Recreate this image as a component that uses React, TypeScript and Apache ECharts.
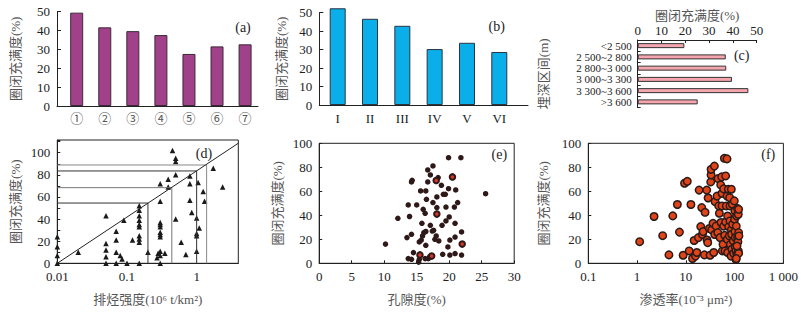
import React, { useEffect, useRef } from 'react';
import * as echarts from 'echarts';

// (a)
const catsA = ['①', '②', '③', '④', '⑤', '⑥', '⑦'];
const valsA = [49.5, 41.7, 39.7, 37.6, 27.6, 31.6, 32.7];
// (b)
const catsB = ['I', 'II', 'III', 'IV', 'V', 'VI'];
const valsB = [52.4, 46.7, 42.9, 30.3, 33.7, 28.7];
// (c)
const catsC = ['<2 500', '2 500~2 800', '2 800~3 000', '3 000~3 300', '3 300~3 600', '>3 600'];
const valsC = [19.6, 37.0, 37.2, 39.6, 46.5, 25.2];
// (d) hydrocarbon expulsion intensity vs filling degree
const ptsD = [
  [0.01, 24], [0.01, 15], [0.01, 7], [0.01, 0],
  [0.02, 10],
  [0.05, 43], [0.05, 18], [0.05, 12], [0.05, 6], [0.05, 0],
  [0.07, 29], [0.07, 21], [0.07, 10], [0.07, 0],
  [0.08, 7], [0.085, 4], [0.09, 39], [0.1, 0], [0.12, 21],
  [0.15, 52], [0.15, 48], [0.15, 43], [0.15, 39], [0.15, 35], [0.15, 33], [0.15, 25], [0.15, 22], [0.15, 19], [0.15, 0],
  [0.2, 10],
  [0.27, 5], [0.28, 9], [0.3, 72], [0.3, 56], [0.3, 37], [0.3, 35], [0.3, 33], [0.3, 28], [0.3, 26], [0.3, 24], [0.3, 11], [0.3, 7], [0.3, 0],
  [0.35, 9], [0.39, 76], [0.39, 69], [0.45, 102],
  [0.5, 95], [0.5, 92], [0.5, 80], [0.5, 40],
  [0.6, 19], [0.7, 8],
  [0.8, 79], [0.8, 72], [0.8, 57], [0.85, 46],
  [1.0, 41], [1.0, 27], [1.0, 25], [1.0, 11], [1.05, 73], [1.09, 32],
  [1.24, 65], [1.3, 56], [1.73, 86], [2.36, 69],
];
const diagD = [[0.01, 0], [3.96, 108.6]];
const stepsD = [
  { x: 0.2, y: 54.5, c: '#333' },
  { x: 0.44, y: 68.4, c: '#777' },
  { x: 1.0, y: 83.5, c: '#333' },
  { x: 1.39, y: 88.9, c: '#888' },
];
// (e) porosity
const ptsE = [
  [19.9, 88], [21.8, 88], [25.6, 58], [10.2, 16], [12.1, 37.5], [13.9, 39], [13.7, 48.6], [15.0, 48.6],
  [14.2, 67.8], [14.3, 69.2], [13.5, 21.4], [14.2, 24.2], [13.7, 3.9], [14.2, 3.3], [14.5, 8.9], [15.3, 1],
  [15.4, 3.3], [15.4, 17.8], [15.7, 19.4], [15.9, 22.8], [16.1, 25.6], [16.4, 26.5], [15.8, 33.3], [16.0, 45],
  [16.3, 41.7], [15.6, 60.3], [16.4, 60.3], [16.7, 77.8], [17.1, 73.6], [16.7, 67.8], [17.5, 81.1], [16.4, 15],
  [16.3, 3.9], [16.8, 3.9], [17.0, 5.6], [16.5, 53.3], [17.1, 31.7], [17.4, 26.9], [17.6, 27.5], [17.5, 50.6],
  [17.8, 20], [18.0, 22.8], [18.1, 55.3], [18.1, 46.4], [18.3, 71.4], [18.8, 65], [18.4, 18.6], [18.9, 31.7],
  [19.1, 57.5], [19.4, 57.5], [19.5, 35.3], [19.5, 46.9], [19.9, 62.2], [20.0, 38.6], [19.8, 13.6], [20.1, 19.4],
  [19.0, 7.5], [20.1, 6.9], [20.8, 46.9], [20.9, 21.9], [20.9, 33.3], [21.0, 61.1], [20.9, 8.1], [21.3, 50.6],
  [21.9, 26.1], [21.9, 6.9],
];
const ptsERed = [[18.0, 69], [18.1, 41], [20.5, 72], [22.0, 16], [15.5, 7], [17.3, 6]];
// (f) permeability
const ptsF = [
  [1.13, 18], [2.23, 39], [3.35, 23], [4.5, 7], [5.4, 39.5], [6.7, 49], [7.4, 26], [8.8, 6.7], [9.4, 66.7], [10.7, 68.3],
  [11.7, 10.3], [12.7, 49], [13.7, 4], [14.8, 19], [15.8, 6], [16.8, 9], [18.1, 21.4], [18.7, 61], [20.2, 30.6], [21.2, 46.4],
  [21.9, 24], [22.6, 26.4], [24, 7], [24.8, 42.5], [26.8, 61], [27.2, 19.4], [28.1, 17.2], [28.6, 54.4], [30.4, 29], [31.4, 6.7],
  [32.4, 67.8], [32.9, 73.6], [32.9, 78.3], [33.9, 27.8], [36.1, 33.3], [37.3, 9], [38.5, 81], [39.1, 24], [39.7, 51.4], [41.6, 31],
  [43.6, 56], [45.1, 25.6], [45.7, 70.6], [47.2, 47.8], [48.7, 41.7], [50.2, 21.4], [51.9, 65.3], [52.6, 34], [54.3, 72], [55.2, 58.3],
  [55.2, 47.8], [56, 10.3], [57.8, 15.8], [59.6, 31], [59.6, 62], [61.6, 87.5], [62.5, 23.3], [63.5, 10.3], [65.5, 72.8], [65.5, 34.4],
  [67.6, 47.8], [69.8, 87], [69.8, 56], [70.8, 20], [71.9, 39.4], [71.9, 9], [74.3, 61.7], [75.5, 30.6], [77.9, 22.8], [79.1, 54.7],
  [80.4, 47.8], [80.4, 35.3], [81.7, 15.8], [84.3, 6], [85.6, 61.7], [85.6, 27.8], [86.9, 24.2], [88.3, 11.7], [89.7, 49.2], [91.1, 32.5],
  [94, 18.6], [95.5, 8.3], [98.5, 52], [100, 36.7], [101.6, 43.6], [101.6, 26.4], [103.3, 21.4], [103.3, 13.6], [106.5, 10.3], [106.5, 3.3],
  [108.2, 31], [110, 39.4], [111.7, 7.5], [115.2, 45.6], [115.2, 21.4], [117, 17.8], [118.9, 40.8], [118.9, 10.3], [120.8, 45], [120.8, 8.3],
  [120.8, 25.6], [122.6, 22.8], [111.7, 14.4], [108.2, 3.9],
];
const logLabelsD: Record<string, string> = { '-2': '0.01', '-1': '0.1', '0': '1' };
const logLabelsF: Record<string, string> = { '-1': '0.1', '0': '1', '1': '10', '2': '100', '3': '1 000' };

const SERIF = "'Liberation Serif', 'Noto Sans CJK SC', serif";
const tick = { fontFamily: SERIF, fontSize: 13, color: '#222' };
const nameStyle = { fontFamily: SERIF, fontSize: 13, color: '#555' };
const axLine = { show: true, onZero: false, lineStyle: { color: '#222', width: 1 } };
const inTick = (len = 4) => ({ show: true, inside: true, length: len, lineStyle: { color: '#222' } });

function logFmt(map: Record<string, string>) {
  return (v: number) => {
    const l = Math.log10(v);
    const r = Math.round(l);
    if (Math.abs(l - r) < 1e-6 && map[String(r)] !== undefined) return map[String(r)];
    return '';
  };
}

export default function App() {
  const ref = useRef<HTMLDivElement>(null);
  useEffect(() => {
    const chart = echarts.init(ref.current!, null, { renderer: 'svg' });
    const stepSeries = stepsD.map((s) => ({
      type: 'line', xAxisIndex: 3, yAxisIndex: 3, symbol: 'none', silent: true,
      lineStyle: { color: s.c, width: 1 },
      data: [[0.01, s.y], [s.x, s.y], [s.x, 0]],
    }));
    const option: any = {
      animation: false,
      backgroundColor: '#fff',
      grid: [
        { left: 57, top: 11.7, width: 201, height: 94.3 },
        { left: 319.3, top: 12.7, width: 208.7, height: 92.3 },
        { left: 637.7, top: 40, width: 119, height: 67.5 },
        { left: 57.3, top: 140, width: 181, height: 123.3, show: true, borderColor: '#222', borderWidth: 1 },
        { left: 319.2, top: 143.3, width: 195, height: 120, show: true, borderColor: '#222', borderWidth: 1 },
        { left: 588.3, top: 143.3, width: 196, height: 120, show: true, borderColor: '#222', borderWidth: 1 },
      ],
      xAxis: [
        {
          gridIndex: 0, type: 'value', min: 0.298, max: 7.46, axisLine: axLine, axisTick: { show: false }, splitLine: { show: false },
          axisLabel: { customValues: [1, 2, 3, 4, 5, 6, 7], formatter: (v: number) => catsA[Math.round(v) - 1], margin: 5, fontFamily: "'Noto Sans CJK SC', sans-serif", fontSize: 13, color: '#555' },
        },
        {
          gridIndex: 1, type: 'value', min: 0.431, max: 6.888, axisLine: axLine, axisTick: { show: false }, splitLine: { show: false },
          axisLabel: { customValues: [1, 2, 3, 4, 5, 6], formatter: (v: number) => catsB[Math.round(v) - 1], margin: 7, ...tick },
        },
        {
          gridIndex: 2, type: 'value', position: 'top', min: 0, max: 50, interval: 10, axisLine: axLine, axisTick: inTick(3), splitLine: { show: false },
          axisLabel: { margin: 3, ...tick },
          name: '圈闭充满度(%)', nameLocation: 'middle', nameGap: 18, nameTextStyle: nameStyle,
        },
        {
          gridIndex: 3, type: 'log', logBase: 10, min: 0.01, max: 3.96, axisLine: axLine, axisTick: { show: false }, splitLine: { show: false },
          axisLabel: { formatter: logFmt(logLabelsD), margin: 7, ...tick, showMaxLabel: false },
          name: '排烃强度(10⁶ t/km²)', nameLocation: 'middle', nameGap: 30, nameTextStyle: nameStyle,
        },
        {
          gridIndex: 4, type: 'value', min: 0, max: 30, interval: 5, axisLine: axLine, axisTick: inTick(3), splitLine: { show: false },
          axisLabel: { margin: 7, ...tick },
          name: '孔隙度(%)', nameLocation: 'middle', nameGap: 30, nameTextStyle: nameStyle,
        },
        {
          gridIndex: 5, type: 'log', logBase: 10, min: 0.1, max: 1000, axisLine: axLine, axisTick: inTick(3), splitLine: { show: false },
          axisLabel: { formatter: logFmt(logLabelsF), margin: 7, ...tick },
          name: '渗透率(10⁻³ μm²)', nameLocation: 'middle', nameGap: 30, nameTextStyle: nameStyle,
        },
      ],
      yAxis: [
        {
          gridIndex: 0, type: 'value', min: 0, max: 50, interval: 10, axisLine: axLine, axisTick: inTick(4), splitLine: { show: false },
          axisLabel: { margin: 7, ...tick },
          name: '圈闭充满度(%)', nameLocation: 'middle', nameGap: 35, nameRotate: 90, nameTextStyle: nameStyle,
        },
        {
          gridIndex: 1, type: 'value', min: 0, max: 50, interval: 10, axisLine: axLine, axisTick: inTick(4), splitLine: { show: false },
          axisLabel: { margin: 7, ...tick },
          name: '圈闭充满度(%)', nameLocation: 'middle', nameGap: 31, nameRotate: 90, nameTextStyle: nameStyle,
        },
        {
          gridIndex: 2, type: 'category', data: catsC, inverse: true, axisLine: axLine, axisTick: inTick(3), splitLine: { show: false },
          axisLabel: { margin: 6, interval: 0, ...tick, fontSize: 11, lineHeight: 11 },
          name: '埋深区间(m)', nameLocation: 'middle', nameGap: 88, nameRotate: 90, nameTextStyle: nameStyle,
        },
        {
          gridIndex: 3, type: 'value', min: 0, max: 111.5, interval: 10, axisLine: axLine, axisTick: inTick(3), splitLine: { show: false },
          axisLabel: { margin: 7, ...tick, formatter: (v: number) => (v % 20 === 0 && v <= 100 ? String(v) : '') },
          name: '圈闭充满度(%)', nameLocation: 'middle', nameGap: 35, nameRotate: 90, nameTextStyle: nameStyle,
        },
        {
          gridIndex: 4, type: 'value', min: 0, max: 100, interval: 20, axisLine: axLine, axisTick: inTick(3), splitLine: { show: false },
          axisLabel: { margin: 7, ...tick },
          name: '圈闭充满度(%)', nameLocation: 'middle', nameGap: 35, nameRotate: 90, nameTextStyle: nameStyle,
        },
        {
          gridIndex: 5, type: 'value', min: 0, max: 100, interval: 20, axisLine: axLine, axisTick: inTick(3), splitLine: { show: false },
          axisLabel: { margin: 7, ...tick },
          name: '圈闭充满度(%)', nameLocation: 'middle', nameGap: 38, nameRotate: 90, nameTextStyle: nameStyle,
        },
      ],
      series: [
        {
          type: 'bar', xAxisIndex: 0, yAxisIndex: 0, barWidth: 13, clip: false,
          itemStyle: { color: '#a0418a', borderColor: '#3a2a35', borderWidth: 1 },
          data: valsA.map((v, i) => [i + 1, v]),
        },
        {
          type: 'bar', xAxisIndex: 1, yAxisIndex: 1, barWidth: 16, clip: false,
          itemStyle: { color: '#0aaee8', borderColor: '#2a3540', borderWidth: 1 },
          data: valsB.map((v, i) => [i + 1, v]),
        },
        {
          type: 'bar', xAxisIndex: 2, yAxisIndex: 2, barWidth: 5,
          itemStyle: { color: '#f5a5ae', borderColor: '#333', borderWidth: 1 },
          data: valsC,
        },
        ...stepSeries,
        {
          type: 'line', xAxisIndex: 3, yAxisIndex: 3, symbol: 'none', silent: true,
          lineStyle: { color: '#222', width: 1 }, data: diagD,
        },
        {
          type: 'scatter', xAxisIndex: 3, yAxisIndex: 3, symbol: 'triangle', symbolSize: 5.5,
          itemStyle: { color: '#1a1a1a', opacity: 1 }, data: ptsD,
        },
        {
          type: 'scatter', xAxisIndex: 4, yAxisIndex: 4, symbolSize: 5.5,
          itemStyle: { color: '#2e1818', opacity: 1 }, data: ptsE,
        },
        {
          type: 'scatter', xAxisIndex: 4, yAxisIndex: 4, symbolSize: 5.5,
          itemStyle: { color: '#d8332a', borderColor: '#2e1818', borderWidth: 2, opacity: 1 }, data: ptsERed,
        },
        {
          type: 'scatter', xAxisIndex: 5, yAxisIndex: 5, symbolSize: 7.5,
          itemStyle: { color: '#e04418', borderColor: '#2b1b18', borderWidth: 1.5, opacity: 1 }, data: ptsF,
        },
      ],
      graphic: [
        ['(a)', 243, 27], ['(b)', 496.7, 26], ['(c)', 741.7, 55],
        ['(d)', 204, 153], ['(e)', 499.3, 154], ['(f)', 768.3, 154],
      ].map(([t, x, y]) => ({
        type: 'text', x, y,
        style: { text: t, fontFamily: SERIF, fontSize: 14, fill: '#222', align: 'center', verticalAlign: 'middle' },
      })),
    };
    chart.setOption(option);
    return () => chart.dispose();
  }, []);
  return <div ref={ref} style={{ position: 'absolute', left: 0, top: 0, width: 801, height: 314 }} />;
}
